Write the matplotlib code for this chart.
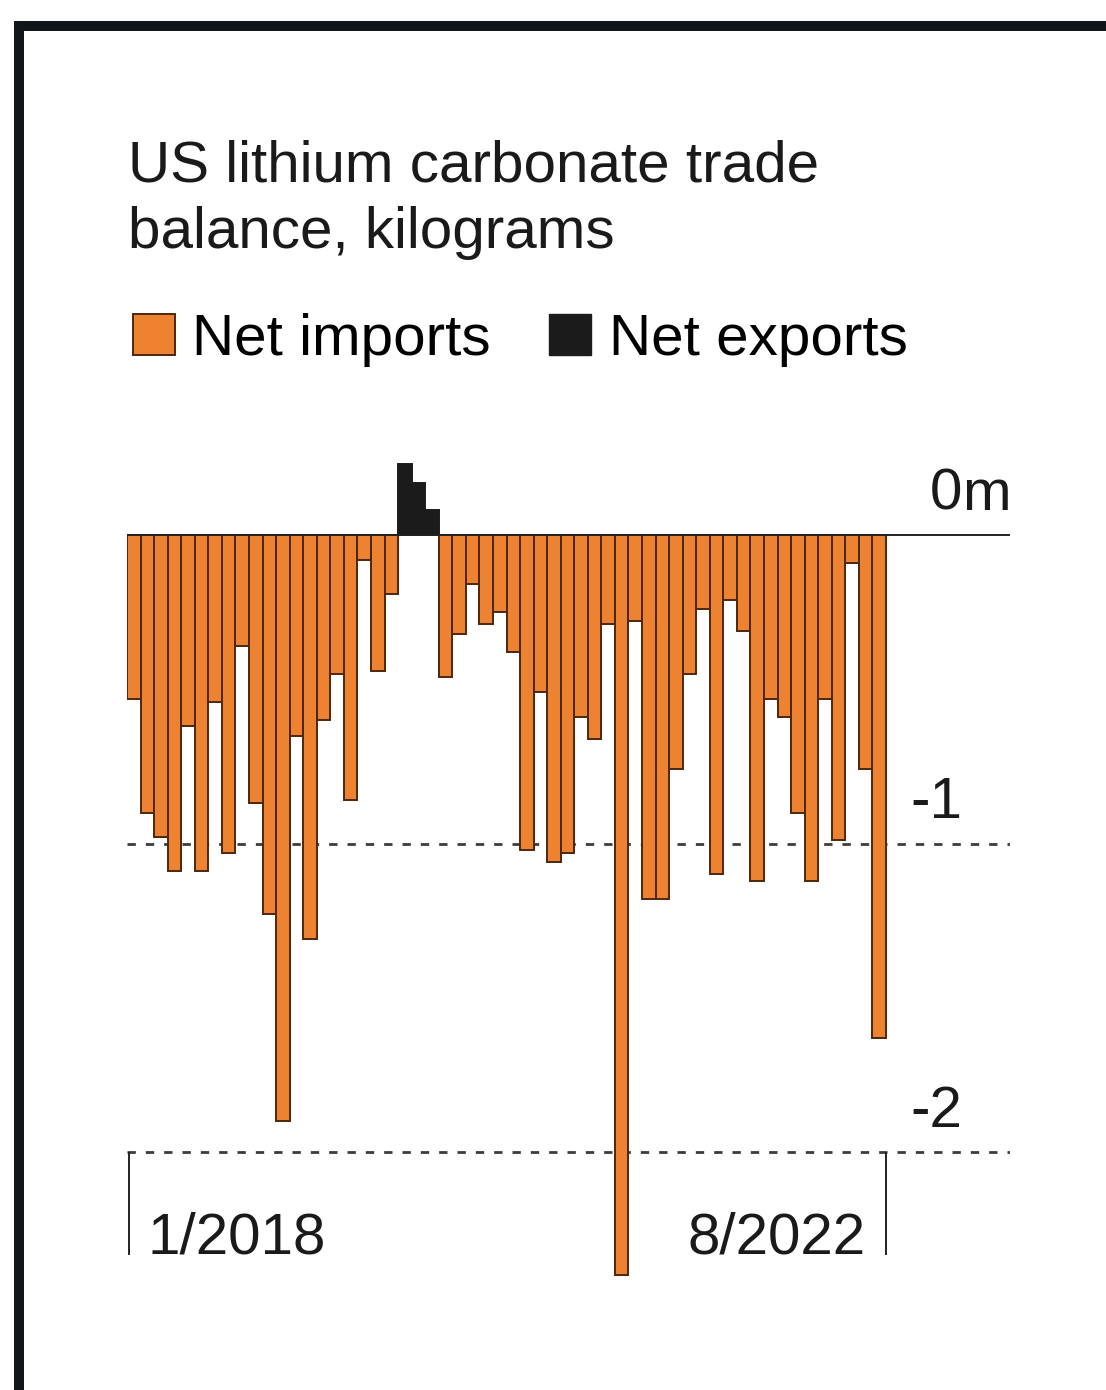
"""US lithium carbonate trade balance, monthly bars."""

import matplotlib

matplotlib.use("Agg")
import matplotlib.pyplot as plt
import numpy as np
from matplotlib.lines import Line2D
from matplotlib.patches import Patch

# monthly net trade balance, million kg (negative = net imports), 1/2018 .. 8/2022
net_balance = [
    -0.53, -0.90, -0.98, -1.09, -0.62, -1.09, -0.54, -1.03, -0.36, -0.87,
    -1.23, -1.90, -0.65, -1.31, -0.60, -0.45, -0.86, -0.08, -0.44, -0.19,
    0.23, 0.17, 0.08, -0.46, -0.32, -0.16, -0.29, -0.25, -0.38, -1.02,
    -0.51, -1.06, -1.03, -0.59, -0.66, -0.29, -2.40, -0.28, -1.18, -1.18,
    -0.76, -0.45, -0.24, -1.10, -0.21, -0.31, -1.12, -0.53, -0.59, -0.90,
    -1.12, -0.53, -0.99, -0.09, -0.76, -1.63,
]
y_ticks = [0, -1, -2]
y_tick_labels = ["0", "-1", "-2"]
first_label = "1/2018"
last_label = "8/2022"
title_lines = ["US lithium carbonate trade", "balance, kilograms"]
legend_labels = ["Net imports", "Net exports"]

ORANGE = "#ED8330"
EDGE = "#4e260c"
BLACK = "#1b1b1b"
FONT = "Liberation Sans"
FS = 42

W, H = 1106, 1390
plt.rcParams["font.family"] = [FONT, "DejaVu Sans"]
fig = plt.figure(figsize=(W / 100, H / 100), dpi=100)
fig.patch.set_facecolor("white")


def fx(px):
    return px / W


def fy(py):
    return 1 - py / H


# frame that runs off the right and bottom edges
fig.add_artist(
    Line2D(
        [fx(19), fx(19), 1.2],
        [-0.2, fy(26), fy(26)],
        transform=fig.transFigure,
        lw=7.2,
        color="#0f1519",
        solid_joinstyle="miter",
    )
)

# title and legend
fig.text(fx(128), fy(182), title_lines[0], fontsize=FS, va="baseline", color="#1a1a1a")
fig.text(fx(128), fy(248), title_lines[1], fontsize=FS, va="baseline", color="#1a1a1a")
handles = [
    Patch(facecolor=ORANGE, edgecolor=EDGE, linewidth=1.4),
    Patch(facecolor=BLACK, edgecolor=BLACK),
]
fig.legend(
    handles,
    legend_labels,
    loc="lower left",
    bbox_to_anchor=(fx(133), fy(367)),
    ncol=2,
    frameon=False,
    fontsize=FS,
    handlelength=0.72,
    handleheight=0.72,
    handletextpad=0.3,
    columnspacing=1.0,
    borderaxespad=0,
    borderpad=0,
)

# plot area: zero at y=535px, 308.5px per million, 13.554px per month
px_unit = 308.5
px_month = 759 / 56
ax = fig.add_axes([fx(127), fy(1300), (1010 - 127) / W, (1300 - 440) / H])
ax.set_xlim(0, 883 / px_month)
ax.set_ylim(-(1300 - 535) / px_unit, (535 - 440) / px_unit)
ax.axis("off")

values = np.array(net_balance)
x = np.arange(len(values))
colors = [BLACK if v > 0 else ORANGE for v in values]
edges = [BLACK if v > 0 else EDGE for v in values]
ax.bar(x, values, width=1.0, align="edge", color=colors, edgecolor=edges,
       linewidth=1.4, zorder=2)

ax.axhline(0, color="#222222", lw=1.4, zorder=3)
for tick in y_ticks[1:]:
    ax.axhline(tick, color="#3c3c3c", lw=2.0, dashes=(3, 3.6), zorder=1)

label_x = (962 - 127) / px_month
offset = 25 / px_unit
for tick, label in zip(y_ticks, y_tick_labels):
    ax.text(label_x, tick + offset, label, ha="right", va="baseline",
            fontsize=FS, color="#1a1a1a")
ax.text(label_x, offset, "m", ha="left", va="baseline", fontsize=FS, color="#1a1a1a")

# bracket ticks under the first and last month
tick_bottom = -(1255 - 535) / px_unit
for edge_x in (0.15, len(values)):
    ax.plot([edge_x, edge_x], [-2, tick_bottom], color="#222222", lw=1.4,
            solid_capstyle="butt", zorder=3)
label_y = -(1253 - 535) / px_unit
ax.text((148 - 127) / px_month, label_y, first_label, ha="left", va="baseline",
        fontsize=FS, color="#1a1a1a")
ax.text((866 - 127) / px_month, label_y, last_label, ha="right", va="baseline",
        fontsize=FS, color="#1a1a1a")

fig.savefig("out.png", dpi=100, facecolor="white")
